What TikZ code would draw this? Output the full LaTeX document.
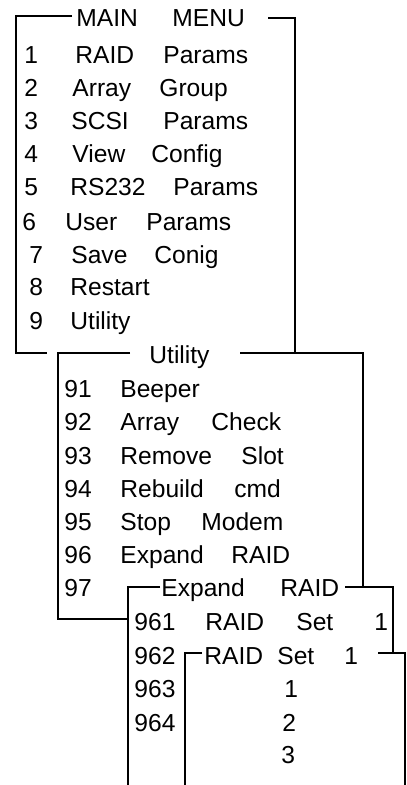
\documentclass[tikz,border=0pt]{standalone}
\usepackage{fontspec}
\setmainfont{Liberation Sans}
\usetikzlibrary{positioning}
\newlength\pxu
\setlength\pxu{0.5pt}
\newcommand{\wordat}[2]{\makebox[#1\pxu][l]{#2}}

\begin{document}
\begin{tikzpicture}[
    x=0.5pt, y=-0.5pt,
    menu/.style={anchor=base west, inner sep=0pt, font=\fontsize{12.3}{14}\selectfont},
    frame/.style={line width=0.6pt, black}
]
\useasboundingbox (0,0) rectangle (406,785);

% main menu
\node[menu] (mm) at (76,27) {\wordat{96}{MAIN}MENU};
\node[menu] (m1) at (24,64) {1};  \node[menu] (l1) at (75,64) {\wordat{88}{RAID}Params};
\node[menu] (m2) at (24,97) {2};  \node[menu] (l2) at (72,97) {\wordat{87}{Array}Group};
\node[menu] (m3) at (24,130) {3}; \node[menu] (l3) at (71,130) {\wordat{92}{SCSI}Params};
\node[menu] (m4) at (24,163) {4}; \node[menu] (l4) at (72,163) {\wordat{79}{View}Config};
\node[menu] (m5) at (24,196) {5}; \node[menu] (l5) at (70,196) {\wordat{103}{RS232}Params};
\node[menu] (m6) at (22,231) {6}; \node[menu] (l6) at (65,231) {\wordat{81}{User}Params};
\node[menu] (m7) at (29,264) {7}; \node[menu] (l7) at (71,264) {\wordat{83}{Save}Conig};
\node[menu] (m8) at (29,296) {8}; \node[menu] (l8) at (70,296) {Restart};
\node[menu] (m9) at (29,329) {9}; \node[menu] (l9) at (70,329) {Utility};

% utility
\node[menu] (ut) at (149,364) {Utility};
\node[menu] (u1) at (64,397) {91}; \node[menu] (v1) at (120,397) {Beeper};
\node[menu] (u2) at (64,430) {92}; \node[menu] (v2) at (120,430) {\wordat{91}{Array}Check};
\node[menu] (u3) at (64,464) {93}; \node[menu] (v3) at (120,464) {\wordat{121}{Remove}Slot};
\node[menu] (u4) at (64,497) {94}; \node[menu] (v4) at (120,497) {\wordat{114}{Rebuild}cmd};
\node[menu] (u5) at (64,530) {95}; \node[menu] (v5) at (120,530) {\wordat{81}{Stop}Modem};
\node[menu] (u6) at (64,563) {96}; \node[menu] (v6) at (120,563) {\wordat{111}{Expand}RAID};
\node[menu] (u7) at (64,596) {97};

% expand raid
\node[menu] (ex) at (161,596) {\wordat{119}{Expand}RAID};
\node[menu] (e1) at (134,630) {961}; \node[menu] (f1) at (205,630) {\wordat{91}{RAID}\wordat{78}{Set}1};
\node[menu] (e2) at (134,664) {962};
\node[menu] (e3) at (134,697) {963};
\node[menu] (e4) at (134,731) {964};

% raid set 1
\node[menu] (rs) at (204,664) {\wordat{73}{RAID}\wordat{67}{Set}1};
\node[menu] (r1) at (284,697) {1};
\node[menu] (r2) at (282,731) {2};
\node[menu] (r3) at (281,763) {3};

% frame corners
\coordinate (mmL) at (72,16);   \coordinate (mmR) at (268,18);
\coordinate (utL) at (130,353); \coordinate (utR) at (240,353);
\coordinate (exL) at (160,587); \coordinate (exR) at (345,587);
\coordinate (rsL) at (202,653); \coordinate (rsR) at (378,653);
\coordinate (mmB) at (47,353);  \coordinate (utB) at (128,619);
\coordinate (exB) at (128,785); \coordinate (rsB) at (185,785);
\coordinate (exE) at (393,653); \coordinate (rsE) at (405,785);

\draw[frame] (mmL) -| (16,353) -- (mmB);
\draw[frame] (mmR) -| (295,353);
\draw[frame] (utL) -| (58,619) -- (utB);
\draw[frame] (utR) -| (363,587);
\draw[frame] (exL) -| (exB);
\draw[frame] (exR) -| (exE);
\draw[frame] (rsL) -| (rsB);
\draw[frame] (rsR) -| (rsE);
\end{tikzpicture}
\end{document}
